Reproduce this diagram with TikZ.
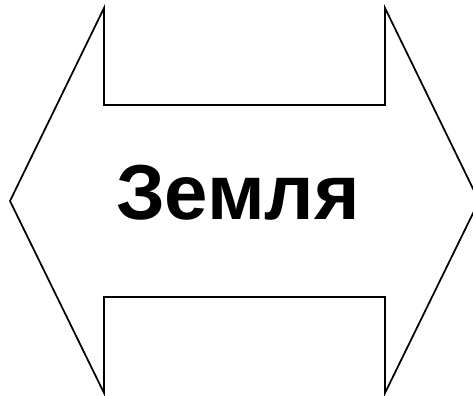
\documentclass[tikz,border=0pt]{standalone}
\usepackage{fontspec}
\setmainfont{Liberation Sans}
\begin{document}
\begin{tikzpicture}[x=0.75pt,y=-0.75pt,
  arrowshape/.style={draw=black,line width=1.3pt,line join=miter},
  label/.style={font=\fontsize{58.5}{70}\selectfont\bfseries,inner sep=0pt}]
\useasboundingbox (0,0) rectangle (473,395);
\clip (0,0) rectangle (473,395);
\draw[arrowshape] (10,201) -- (104,8) -- (104,105) -- (385,105) -- (385,8) -- (479,201)
  -- (385,393) -- (385,297) -- (104,297) -- (104,393) -- cycle;
\node[label,anchor=base] (t) at (238,219) {Земля};
\end{tikzpicture}
\end{document}
